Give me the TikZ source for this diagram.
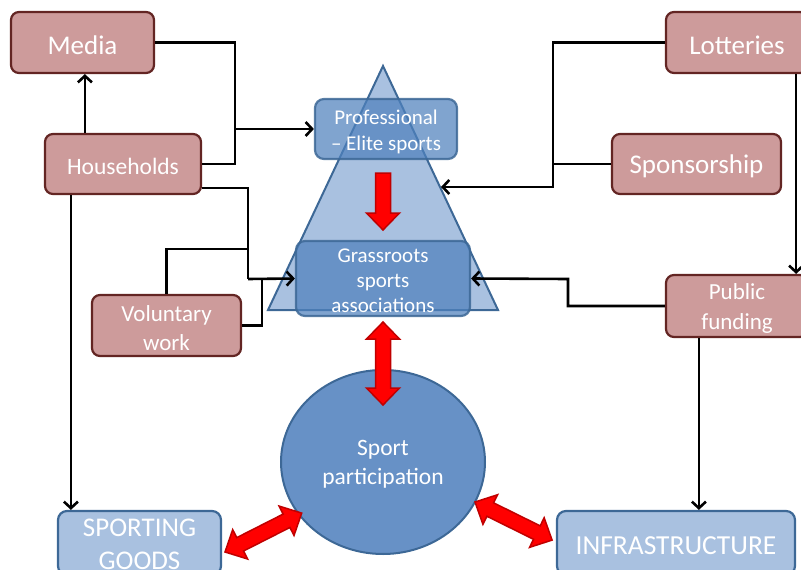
\documentclass[tikz,border=0pt]{standalone}
\usepackage{fontspec}
\setmainfont{Carlito}
\usetikzlibrary{arrows.meta,calc,shapes.geometric}
\definecolor{pinkfill}{RGB}{205,155,155}
\definecolor{pinkline}{RGB}{99,37,35}
\definecolor{bluefill}{RGB}{79,129,189}
\definecolor{blueline}{RGB}{61,104,150}
\definecolor{lightblue}{RGB}{169,193,224}
\definecolor{circfill}{RGB}{103,145,198}
\definecolor{darkred}{RGB}{192,0,0}
\newcommand\fs[2]{\fontsize{#1}{#2}\selectfont}
\newcommand\dblarrow[3]{%
  \begin{scope}[shift={(#1)},rotate=#2]
  \filldraw[redarrow] (0,0) -- (17,16.5) -- (17,7.5) -- ({#3-17},7.5) -- ({#3-17},16.5) -- (#3,0)
    -- ({#3-17},-16.5) -- ({#3-17},-7.5) -- (17,-7.5) -- (17,-16.5) -- cycle;
  \end{scope}}
\newcommand\sglarrow[3]{%
  \begin{scope}[shift={(#1)},rotate=#2]
  \filldraw[redarrow] (0,7.5) -- ({#3-17},7.5) -- ({#3-17},16.5) -- (#3,0)
    -- ({#3-17},-16.5) -- ({#3-17},-7.5) -- (0,-7.5) -- cycle;
  \end{scope}}
\tikzset{
  pinkbox/.style={draw=pinkline, line width=2.2pt, fill=pinkfill, rounded corners=8pt, inner sep=0pt},
  bluebox/.style={draw=blueline, draw opacity=0.85, line width=2.2pt, fill=bluefill, fill opacity=0.72,
    rounded corners=9pt, inner sep=0pt},
  lightbox/.style={draw=blueline, line width=2.2pt, fill=lightblue, rounded corners=9pt, inner sep=0pt},
  lab/.style={text=white, text opacity=1, fill opacity=1, align=center, inner sep=0pt, yshift=-2.5pt},
  conn/.style={draw=black, line width=2.6pt},
  arr/.style={conn, -{Straight Barb[length=6.5pt,width=14pt]}},
  redarrow/.style={fill=red, draw=darkred, line width=1.5pt, line join=miter},
}
\begin{document}
\begin{tikzpicture}[x=1pt,y=-1pt]
\useasboundingbox (0,0) rectangle (801,570);
\clip (0,0) rectangle (801,570);

% triangle
\filldraw[fill=lightblue, draw=blueline, line width=2pt, line join=miter]
  (383,66) -- (498,310) -- (268,310) -- cycle;
\coordinate (tE) at (441,187);

% pink nodes
\node[pinkbox, minimum width=143pt, minimum height=61pt,
  label={[lab, font=\fs{27}{32}]center:Media}] (media) at (82.5,42.5) {};
\node[pinkbox, minimum width=156pt, minimum height=60pt,
  label={[lab, font=\fs{23.5}{28}]center:Households}] (hh) at (123,164) {};
\node[pinkbox, minimum width=142pt, minimum height=61pt,
  label={[lab, font=\fs{27}{32}]center:Lotteries}] (lot) at (737,42.5) {};
\node[pinkbox, minimum width=169pt, minimum height=60pt,
  label={[lab, font=\fs{27}{32}]center:Sponsorship}] (sp) at (696.5,164) {};
\node[pinkbox, minimum width=149pt, minimum height=61pt,
  label={[lab, font=\fs{23}{28.5}]center:{Voluntary\\work}}] (vol) at (166.5,325.5) {};
\node[pinkbox, minimum width=142pt, minimum height=62pt,
  label={[lab, font=\fs{23}{30}]center:{Public\\funding}}] (pf) at (737,306) {};

% blue nodes
\node[bluebox, minimum width=142pt, minimum height=60pt,
  label={[lab, font=\fs{21}{26}]center:{Professional\\– Elite sports}}] (prof) at (386,129) {};
\node[bluebox, minimum width=174pt, minimum height=75pt,
  label={[lab, font=\fs{21}{25}]center:{Grassroots\\sports\\associations}}] (gr) at (383,278.5) {};
\node[draw=blueline, line width=2pt, fill=circfill, ellipse, minimum width=204pt, minimum height=184pt,
  inner sep=0pt, label={[lab, font=\fs{23.5}{29}]center:{Sport\\participation}}] (sp2) at (383,462) {};
\node[lightbox, minimum width=163pt, minimum height=64pt,
  label={[lab, font=\fs{27}{33}, yshift=1pt]center:{SPORTING\\GOODS}}] (sg) at (139.5,543) {};
\node[lightbox, minimum width=238pt, minimum height=64pt,
  label={[lab, font=\fs{27.5}{33}]center:INFRASTRUCTURE}] (inf) at (676,543) {};

% coordinates
\coordinate (jA) at (235,129);
\coordinate (jB) at (248,279);
\coordinate (jC) at (248,249);
\coordinate (jD) at (262,279);
\coordinate (jE) at (553,167);
\coordinate (jF) at (568,279);
\coordinate (hhTop) at ($(hh.north west)+(41,0)$);
\coordinate (hhR2) at ($(hh.south east)+(0,-7)$);
\coordinate (hhBot) at ($(hh.south west)+(27,0)$);
\coordinate (lotBot) at ($(lot.south east)+(-13,0)$);
\coordinate (pfBot) at ($(pf.south west)+(34,0)$);

% connectors
\draw[arr] (hhTop) -- (hhTop |- media.south);
\draw[conn] (media.east) -| (jA) |- (hh.east);
\draw[arr] (jA) -- (prof.west);
\draw[conn] (hhR2) -| (jB);
\draw[arr] (jB) -- (gr.west);
\draw[conn] (vol.north) |- (jC);
\draw[conn] (vol.east) -| (jD);
\draw[arr] (hhBot) -- (hhBot |- sg.north);
\draw[arr] (lot.west) -| (jE) |- (tE);
\draw[conn] (sp.west) -- (sp.west -| jE);
\draw[arr] (lotBot) -- (lotBot |- pf.north);
\draw[arr] (pf.west) -| (jF) -- (gr.east);
\draw[arr] (pfBot) -- (pfBot |- inf.north);

% red block arrows
\sglarrow{383,173}{-90}{57}
\dblarrow{383,322}{-90}{83}
\dblarrow{225,552}{26.9}{86}
\dblarrow{475,502}{-26.3}{86}
\end{tikzpicture}
\end{document}
